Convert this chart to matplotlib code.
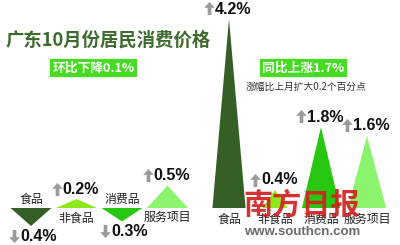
import matplotlib
matplotlib.use("Agg")
import matplotlib.pyplot as plt
from matplotlib.patches import Polygon
from matplotlib.path import Path
from matplotlib.transforms import offset_copy

plt.rcParams['font.family'] = ['Noto Sans CJK SC', 'DejaVu Sans']

# ---- data ----
categories = ["食品", "非食品", "消费品", "服务项目"]
mom_values = [-0.4, 0.2, -0.3, 0.5]      # 环比
yoy_values = [4.2, 0.4, 1.8, 1.6]        # 同比
title = "广东10月份居民消费价格"
mom_label = "环比下降0.1%"
yoy_label = "同比上涨1.7%"
yoy_note = "涨幅比上月扩大0.2个百分点"

# ---- styles ----
colors = ["#365e27", "#8de81a", "#27c712", "#8cf46c"]
W, H = 400, 245
fig = plt.figure(figsize=(4, 2.45), dpi=100)
fig.patch.set_facecolor("white")

ylim = (-37 / 45, 208 / 45)

ax_l = fig.add_axes([0, 0, 1, 1])
ax_l.set_xlim(-31 / 45.5, 369 / 45.5)
ax_l.set_ylim(*ylim)
ax_l.axis("off")

ax_r = fig.add_axes([0, 0, 1, 1])
ax_r.set_xlim(-229 / 46, 171 / 46)
ax_r.set_ylim(*ylim)
ax_r.axis("off")
ax_r.patch.set_alpha(0)

num_font = dict(family=["Liberation Sans", "DejaVu Sans"], fontweight="bold",
                fontsize=11.5, color="#111111")
cat_font = dict(fontsize=8.6, color="#222222")

up_arrow = Path([(0, 0.5), (0.4, 0.05), (0.14, 0.05), (0.14, -0.5),
                 (-0.14, -0.5), (-0.14, 0.05), (-0.4, 0.05), (0, 0.5)],
                closed=True)
down_arrow = Path([(x, -y) for x, y in up_arrow.vertices], closed=True)

PT = 0.72  # points per pixel


def value_label(ax, x, v, dx=-14, dy=10):
    up = v >= 0
    off = dy if up else -dy
    ax.annotate(f"{abs(v):.1f}%", xy=(x, v), xytext=(dx * PT, off * PT),
                textcoords="offset points", ha="left", va="center", **num_font)
    tr = offset_copy(ax.transData, fig=fig, x=(dx - 6) * PT, y=(off + 0.5) * PT,
                     units="points")
    ax.plot([x], [v], marker=up_arrow if up else down_arrow, markersize=9.5,
            color="#9b9b9b", mec="none", transform=tr, clip_on=False)


# left: month-on-month
for i, (c, v) in enumerate(zip(categories, mom_values)):
    w = 0.9
    ax_l.add_patch(Polygon([(i - w / 2, 0), (i, v), (i + w / 2, 0)],
                           closed=True, color=colors[i], lw=0))
    value_label(ax_l, i, v, dx=-14 if i % 2 else -11)
    if v < 0:
        ax_l.annotate(c, xy=(i, 0), xytext=(0, 6), textcoords="offset points",
                      ha="center", va="center", **cat_font)
    else:
        ax_l.annotate(c, xy=(i, 0), xytext=(0, -7), textcoords="offset points",
                      ha="center", va="center", **cat_font)

# right: year-on-year
widths_r = [0.72, 0.55, 0.83, 0.83]
for i, (c, v) in enumerate(zip(categories, yoy_values)):
    w = widths_r[i]
    ax_r.add_patch(Polygon([(i - w / 2, 0), (i, v), (i + w / 2, 0)],
                           closed=True, color=colors[i], lw=0))
    value_label(ax_r, i, v, dx=-14)
    ax_r.annotate(c, xy=(i, 0), xytext=(0, -8), textcoords="offset points",
                  ha="center", va="center", **cat_font)


def fx(px):
    return px / W


def fy(py):
    return 1 - py / H


fig.text(fx(6), fy(40), title, ha="left", va="center", fontsize=13.2,
         fontweight="bold", color="#3d6b2e")
fig.text(fx(93.5), fy(68), mom_label, ha="center", va="center", fontsize=9.2,
         fontweight="bold", color="white",
         bbox=dict(boxstyle="square,pad=0.2", fc="#45dc22", ec="none"))
fig.text(fx(303.5), fy(68), yoy_label, ha="center", va="center", fontsize=9.2,
         fontweight="bold", color="white",
         bbox=dict(boxstyle="square,pad=0.2", fc="#45dc22", ec="none"))
fig.text(fx(306), fy(87), yoy_note, ha="center", va="center", fontsize=7.0,
         color="#333333")

# watermark
fig.text(fx(302), fy(205), "南方日报", ha="center", va="center", fontsize=21,
         fontweight="bold", color="#d42020", alpha=0.92)
fig.text(fx(302), fy(232), "www.southcn.com", ha="center", va="center",
         family=["Liberation Sans", "DejaVu Sans"], fontweight="bold",
         fontsize=9.5, color="#6a6a6a")

fig.savefig("out.png", dpi=100)
